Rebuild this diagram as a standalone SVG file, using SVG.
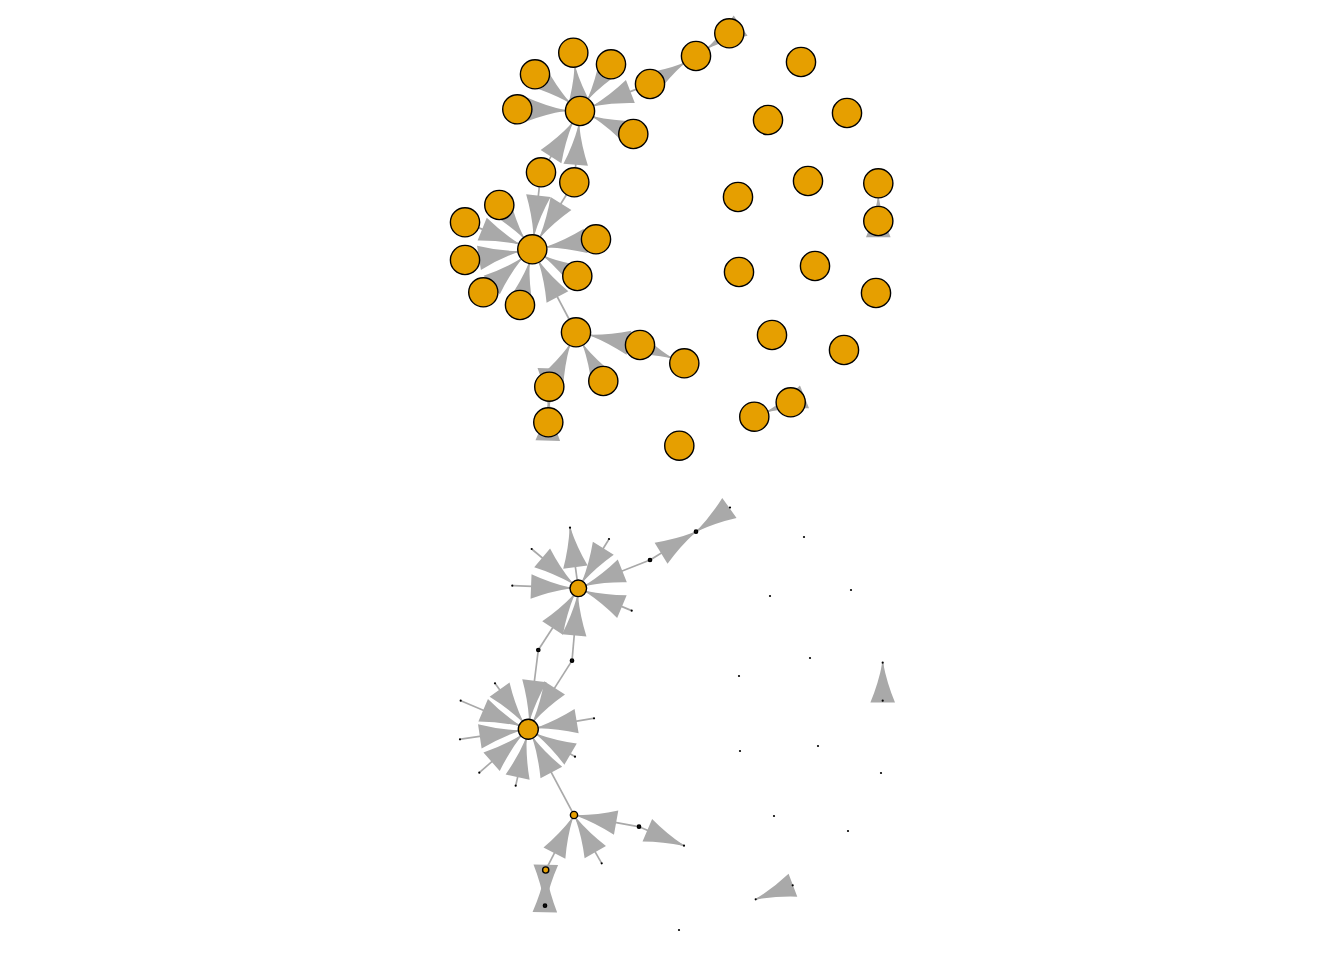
<svg xmlns="http://www.w3.org/2000/svg" width="1344" height="960" viewBox="0 0 1344 960">
<style>
.e line{stroke:#A9A9A9;stroke-width:1.7;fill:none}
.e use{fill:#A9A9A9}
.v{fill:#E69F00;stroke:#000;stroke-width:1.4}
.sq{fill:#111;stroke:#000;stroke-width:1.3}
.dot{fill:#000}
</style>
<defs>
<path id="ah" d="M0,-0.5 Q-19.5,-4.2 -39,-12.3 L-39,12.3 Q-19.5,4.2 0,0.5 Z"/>
</defs>
<rect width="1344" height="960" fill="#fff"/>
<g id="top-edges" class="e">
<g id="te1"><line x1="716.9" y1="41.75" x2="708.39" y2="47.55"/><use href="#ah" transform="translate(708.39,47.55) rotate(145.72)"/></g>
<g id="te2"><line x1="662.81" y1="76.2" x2="683.19" y2="63.8"/><use href="#ah" transform="translate(683.19,63.8) rotate(-31.33)"/></g>
<g id="te3"><line x1="636" y1="89.4" x2="593.99" y2="105.6"/><use href="#ah" transform="translate(593.99,105.6) rotate(158.91)"/></g>
<g id="te4"><line x1="578.29" y1="96.1" x2="575.01" y2="67.6"/><use href="#ah" transform="translate(575.01,67.6) rotate(-96.56)"/></g>
<g id="te5"><line x1="602.7" y1="76.8" x2="588.3" y2="98.5"/><use href="#ah" transform="translate(588.3,98.5) rotate(123.58)"/></g>
<g id="te6"><line x1="546.6" y1="83.8" x2="568.38" y2="101.52"/><use href="#ah" transform="translate(568.38,101.52) rotate(39.2)"/></g>
<g id="te7"><line x1="532.3" y1="109.7" x2="565" y2="110.59"/><use href="#ah" transform="translate(565,110.59) rotate(1.55)"/></g>
<g id="te8"><line x1="619.5" y1="128.1" x2="593.77" y2="116.94"/><use href="#ah" transform="translate(593.77,116.94) rotate(-156.66)"/></g>
<g id="te9"><line x1="549.05" y1="159.64" x2="571.95" y2="123.66"/><use href="#ah" transform="translate(571.95,123.66) rotate(-57.54)"/></g>
<g id="te10"><line x1="575.5" y1="167.35" x2="578.8" y2="125.95"/><use href="#ah" transform="translate(578.8,125.95) rotate(-85.43)"/></g>
<g id="te11"><line x1="539.3" y1="187.2" x2="533.98" y2="234.39"/><use href="#ah" transform="translate(533.98,234.39) rotate(96.45)"/></g>
<g id="te12"><line x1="566.3" y1="195" x2="540.27" y2="236.59"/><use href="#ah" transform="translate(540.27,236.59) rotate(122.08)"/></g>
<g id="te13"><line x1="508.3" y1="217" x2="523.34" y2="237.27"/><use href="#ah" transform="translate(523.34,237.27) rotate(53.31)"/></g>
<g id="te14"><line x1="478.9" y1="227.9" x2="518.38" y2="243.71"/><use href="#ah" transform="translate(518.38,243.71) rotate(21.86)"/></g>
<g id="te15"><line x1="479.8" y1="257.6" x2="517.49" y2="251.66"/><use href="#ah" transform="translate(517.49,251.66) rotate(-9.03)"/></g>
<g id="te16"><line x1="581.2" y1="241.6" x2="547.12" y2="246.97"/><use href="#ah" transform="translate(547.12,246.97) rotate(171.08)"/></g>
<g id="te17"><line x1="564.4" y1="268.3" x2="545.2" y2="256.95"/><use href="#ah" transform="translate(545.2,256.95) rotate(-149.32)"/></g>
<g id="te18"><line x1="494.6" y1="282.4" x2="521.03" y2="259.19"/><use href="#ah" transform="translate(521.03,259.19) rotate(-41.27)"/></g>
<g id="te19"><line x1="523.2" y1="290.4" x2="529.07" y2="263.95"/><use href="#ah" transform="translate(529.07,263.95) rotate(-77.55)"/></g>
<g id="te20"><line x1="569" y1="319" x2="539.29" y2="262.57"/><use href="#ah" transform="translate(539.29,262.57) rotate(-117.77)"/></g>
<g id="te21"><line x1="625.3" y1="342.1" x2="590.71" y2="335.22"/><use href="#ah" transform="translate(590.71,335.22) rotate(-168.78)"/></g>
<g id="te22"><line x1="653.9" y1="350.7" x2="670.44" y2="357.57"/><use href="#ah" transform="translate(670.44,357.57) rotate(22.44)"/></g>
<g id="te23"><line x1="596" y1="367.9" x2="583.34" y2="345.38"/><use href="#ah" transform="translate(583.34,345.38) rotate(-119.28)"/></g>
<g id="te24"><line x1="555.9" y1="373.2" x2="569.39" y2="345.77"/><use href="#ah" transform="translate(569.39,345.77) rotate(-63.86)"/></g>
<g id="te25"><line x1="548.9" y1="401.7" x2="548.72" y2="407.3"/><use href="#ah" transform="translate(548.72,407.3) rotate(91.61)"/></g>
<g id="te26"><line x1="548.9" y1="407.3" x2="548.88" y2="401.7"/><use href="#ah" transform="translate(548.88,401.7) rotate(-88.39)"/></g>
<g id="te27"><line x1="776.75" y1="407.82" x2="768.25" y2="411.18"/><use href="#ah" transform="translate(768.25,411.18) rotate(158.41)"/></g>
<g id="te28"><line x1="878.3" y1="206" x2="878.3" y2="198.3"/><use href="#ah" transform="translate(878.3,198.3) rotate(-90)"/></g>
</g>
<g id="bottom-edges" class="e">
<g id="be1"><line x1="730" y1="507.5" x2="697.63" y2="530.54"/><use href="#ah" transform="translate(697.63,530.54) rotate(144.56)"/></g>
<g id="be2"><line x1="651.7" y1="559" x2="694.3" y2="532.75"/><use href="#ah" transform="translate(694.3,532.75) rotate(-31.61)"/></g>
<g id="be3"><line x1="648.1" y1="560.7" x2="586.02" y2="585.25"/><use href="#ah" transform="translate(586.02,585.25) rotate(158.46)"/></g>
<g id="be4"><line x1="577.2" y1="580.1" x2="570.11" y2="528.49"/><use href="#ah" transform="translate(570.11,528.49) rotate(-97.8)"/></g>
<g id="be5"><line x1="608.6" y1="539.7" x2="582.69" y2="581.25"/><use href="#ah" transform="translate(582.69,581.25) rotate(121.91)"/></g>
<g id="be6"><line x1="532.3" y1="549.5" x2="571.96" y2="582.95"/><use href="#ah" transform="translate(571.96,582.95) rotate(40.14)"/></g>
<g id="be7"><line x1="513.1" y1="585.7" x2="570.01" y2="587.97"/><use href="#ah" transform="translate(570.01,587.97) rotate(2.26)"/></g>
<g id="be8"><line x1="631" y1="610.4" x2="585.95" y2="591.51"/><use href="#ah" transform="translate(585.95,591.51) rotate(-157.24)"/></g>
<g id="be9"><line x1="539.4" y1="648.3" x2="573.78" y2="595.26"/><use href="#ah" transform="translate(573.78,595.26) rotate(-57.04)"/></g>
<g id="be10"><line x1="572.2" y1="658.7" x2="577.58" y2="596.57"/><use href="#ah" transform="translate(577.58,596.57) rotate(-85.03)"/></g>
<g id="be11"><line x1="538.05" y1="652" x2="529.55" y2="719.38"/><use href="#ah" transform="translate(529.55,719.38) rotate(97.19)"/></g>
<g id="be12"><line x1="570.9" y1="662.4" x2="533.67" y2="720.87"/><use href="#ah" transform="translate(533.67,720.87) rotate(122.5)"/></g>
<g id="be13"><line x1="495.5" y1="683.9" x2="522.44" y2="721.2"/><use href="#ah" transform="translate(522.44,721.2) rotate(54.1)"/></g>
<g id="be14"><line x1="461.4" y1="701" x2="519.09" y2="725.4"/><use href="#ah" transform="translate(519.09,725.4) rotate(22.93)"/></g>
<g id="be15"><line x1="460.8" y1="739.2" x2="518.41" y2="730.75"/><use href="#ah" transform="translate(518.41,730.75) rotate(-8.33)"/></g>
<g id="be16"><line x1="593.2" y1="718.4" x2="538.16" y2="727.65"/><use href="#ah" transform="translate(538.16,727.65) rotate(170.5)"/></g>
<g id="be17"><line x1="574.3" y1="756.3" x2="536.93" y2="734.36"/><use href="#ah" transform="translate(536.93,734.36) rotate(-149.6)"/></g>
<g id="be18"><line x1="479.9" y1="772.2" x2="520.81" y2="735.93"/><use href="#ah" transform="translate(520.81,735.93) rotate(-41.53)"/></g>
<g id="be19"><line x1="515.9" y1="784.9" x2="526.12" y2="739.06"/><use href="#ah" transform="translate(526.12,739.06) rotate(-77.41)"/></g>
<g id="be20"><line x1="572.2" y1="811.6" x2="533.01" y2="738.12"/><use href="#ah" transform="translate(533.01,738.12) rotate(-118.07)"/></g>
<g id="be21"><line x1="637" y1="826.35" x2="577.74" y2="815.67"/><use href="#ah" transform="translate(577.74,815.67) rotate(-169.8)"/></g>
<g id="be22"><line x1="640.8" y1="827.5" x2="683.26" y2="845.39"/><use href="#ah" transform="translate(683.26,845.39) rotate(22.89)"/></g>
<g id="be23"><line x1="601.3" y1="862.6" x2="575.89" y2="818.3"/><use href="#ah" transform="translate(575.89,818.3) rotate(-119.84)"/></g>
<g id="be24"><line x1="547.2" y1="867.1" x2="572.26" y2="818.38"/><use href="#ah" transform="translate(572.26,818.38) rotate(-62.77)"/></g>
<g id="be25"><line x1="545.6" y1="873.3" x2="545.04" y2="903.7"/><use href="#ah" transform="translate(545.04,903.7) rotate(91.12)"/></g>
<g id="be26"><line x1="545" y1="903.7" x2="545.64" y2="873.3"/><use href="#ah" transform="translate(545.64,873.3) rotate(-88.88)"/></g>
<g id="be27"><line x1="792.7" y1="885.3" x2="756.45" y2="899.02"/><use href="#ah" transform="translate(756.45,899.02) rotate(159.28)"/></g>
<g id="be28"><line x1="882.7" y1="700.7" x2="882.7" y2="663.5"/><use href="#ah" transform="translate(882.7,663.5) rotate(-90)"/></g>
</g>
<g id="top-nodes">
<g id="t1"><circle class="v" cx="729.3" cy="33.3" r="14.6"/></g>
<g id="t2"><circle class="v" cx="696" cy="56" r="14.6"/></g>
<g id="t3"><circle class="v" cx="650" cy="84" r="14.6"/></g>
<g id="t4"><circle class="v" cx="573.3" cy="52.7" r="14.6"/></g>
<g id="t5"><circle class="v" cx="611" cy="64.3" r="14.6"/></g>
<g id="t6"><circle class="v" cx="535" cy="74.3" r="14.6"/></g>
<g id="t7"><circle class="v" cx="517.3" cy="109.3" r="14.6"/></g>
<g id="t8"><circle class="v" cx="580" cy="111" r="14.6"/></g>
<g id="t9"><circle class="v" cx="633.3" cy="134" r="14.6"/></g>
<g id="t10"><circle class="v" cx="541" cy="172.3" r="14.6"/></g>
<g id="t11"><circle class="v" cx="574.3" cy="182.3" r="14.6"/></g>
<g id="t12"><circle class="v" cx="499.3" cy="205" r="14.6"/></g>
<g id="t13"><circle class="v" cx="465" cy="222.3" r="14.6"/></g>
<g id="t14"><circle class="v" cx="465" cy="260" r="14.6"/></g>
<g id="t15"><circle class="v" cx="532.3" cy="249.3" r="14.6"/></g>
<g id="t16"><circle class="v" cx="596" cy="239.3" r="14.6"/></g>
<g id="t17"><circle class="v" cx="577.3" cy="276" r="14.6"/></g>
<g id="t18"><circle class="v" cx="483.3" cy="292.3" r="14.6"/></g>
<g id="t19"><circle class="v" cx="520" cy="305" r="14.6"/></g>
<g id="t20"><circle class="v" cx="576" cy="332.3" r="14.6"/></g>
<g id="t21"><circle class="v" cx="640" cy="345" r="14.6"/></g>
<g id="t22"><circle class="v" cx="684.3" cy="363.3" r="14.6"/></g>
<g id="t23"><circle class="v" cx="549.3" cy="386.7" r="14.6"/></g>
<g id="t24"><circle class="v" cx="603.3" cy="381" r="14.6"/></g>
<g id="t25"><circle class="v" cx="548.3" cy="422.3" r="14.6"/></g>
<g id="t26"><circle class="v" cx="679.3" cy="445.7" r="14.6"/></g>
<g id="t27"><circle class="v" cx="754.3" cy="416.7" r="14.6"/></g>
<g id="t28"><circle class="v" cx="790.7" cy="402.3" r="14.6"/></g>
<g id="t29"><circle class="v" cx="801" cy="62" r="14.6"/></g>
<g id="t30"><circle class="v" cx="768" cy="120" r="14.6"/></g>
<g id="t31"><circle class="v" cx="847" cy="113" r="14.6"/></g>
<g id="t32"><circle class="v" cx="738" cy="197" r="14.6"/></g>
<g id="t33"><circle class="v" cx="808" cy="181" r="14.6"/></g>
<g id="t34"><circle class="v" cx="878.3" cy="183.3" r="14.6"/></g>
<g id="t35"><circle class="v" cx="878.3" cy="221" r="14.6"/></g>
<g id="t36"><circle class="v" cx="739" cy="272" r="14.6"/></g>
<g id="t37"><circle class="v" cx="815" cy="266" r="14.6"/></g>
<g id="t38"><circle class="v" cx="876" cy="293" r="14.6"/></g>
<g id="t39"><circle class="v" cx="772" cy="335" r="14.6"/></g>
<g id="t40"><circle class="v" cx="844" cy="350" r="14.6"/></g>
</g>
<g id="bottom-nodes">
<g id="b1"><circle class="dot" cx="730" cy="507.5" r="1.1"/></g>
<g id="b2"><circle class="sq" cx="696" cy="531.7" r="1.7"/></g>
<g id="b3"><circle class="sq" cx="650" cy="560" r="1.7"/></g>
<g id="b4"><circle class="dot" cx="570" cy="527.7" r="1.1"/></g>
<g id="b5"><circle class="dot" cx="609" cy="539" r="1.1"/></g>
<g id="b6"><circle class="dot" cx="531.7" cy="549" r="1.1"/></g>
<g id="b7"><circle class="dot" cx="512.3" cy="585.7" r="1.1"/></g>
<g id="b8"><circle class="v" cx="578.3" cy="588.3" r="8.3"/></g>
<g id="b9"><circle class="dot" cx="631.7" cy="610.7" r="1.1"/></g>
<g id="b10"><circle class="sq" cx="538.3" cy="650" r="1.7"/></g>
<g id="b11"><circle class="sq" cx="572" cy="660.7" r="1.7"/></g>
<g id="b12"><circle class="dot" cx="495" cy="683.3" r="1.1"/></g>
<g id="b13"><circle class="dot" cx="460.7" cy="700.7" r="1.1"/></g>
<g id="b14"><circle class="dot" cx="460" cy="739.3" r="1.1"/></g>
<g id="b15"><circle class="v" cx="528.3" cy="729.3" r="10"/></g>
<g id="b16"><circle class="dot" cx="594" cy="718.3" r="1.1"/></g>
<g id="b17"><circle class="dot" cx="575" cy="756.7" r="1.1"/></g>
<g id="b18"><circle class="dot" cx="479.3" cy="772.7" r="1.1"/></g>
<g id="b19"><circle class="dot" cx="515.7" cy="785.7" r="1.1"/></g>
<g id="b20"><circle class="v" cx="574" cy="815" r="3.6"/></g>
<g id="b21"><circle class="sq" cx="639" cy="826.7" r="1.7"/></g>
<g id="b22"><circle class="dot" cx="684" cy="845.7" r="1.1"/></g>
<g id="b23"><circle class="v" cx="545.7" cy="870" r="3.1"/></g>
<g id="b24"><circle class="dot" cx="601.7" cy="863.3" r="1.1"/></g>
<g id="b25"><circle class="sq" cx="545" cy="905.7" r="1.7"/></g>
<g id="b26"><circle class="dot" cx="679" cy="930" r="1.1"/></g>
<g id="b27"><circle class="dot" cx="755.7" cy="899.3" r="1.1"/></g>
<g id="b28"><circle class="dot" cx="792.7" cy="885.3" r="1.1"/></g>
<g id="b29"><circle class="dot" cx="804" cy="537" r="1.1"/></g>
<g id="b30"><circle class="dot" cx="770" cy="596" r="1.1"/></g>
<g id="b31"><circle class="dot" cx="851" cy="590" r="1.1"/></g>
<g id="b32"><circle class="dot" cx="739" cy="676" r="1.1"/></g>
<g id="b33"><circle class="dot" cx="810" cy="658" r="1.1"/></g>
<g id="b34"><circle class="dot" cx="882.7" cy="662.7" r="1.1"/></g>
<g id="b35"><circle class="dot" cx="882.7" cy="700.7" r="1.1"/></g>
<g id="b36"><circle class="dot" cx="740" cy="751" r="1.1"/></g>
<g id="b37"><circle class="dot" cx="818" cy="746" r="1.1"/></g>
<g id="b38"><circle class="dot" cx="881" cy="773" r="1.1"/></g>
<g id="b39"><circle class="dot" cx="774" cy="816" r="1.1"/></g>
<g id="b40"><circle class="dot" cx="848" cy="831" r="1.1"/></g>
</g>
</svg>
